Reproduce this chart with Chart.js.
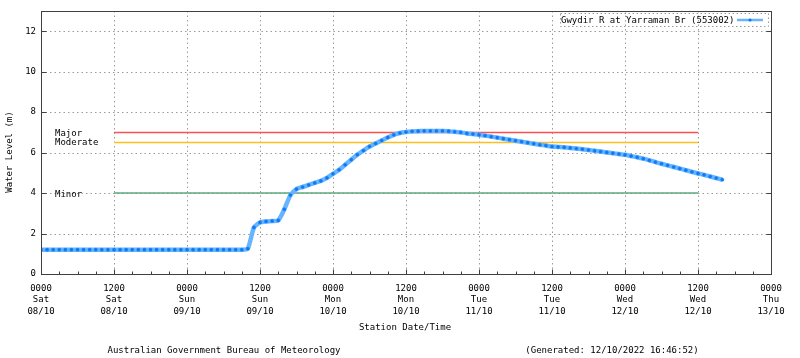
<!DOCTYPE html>
<html><head><meta charset="utf-8">
<script src="https://cdn.jsdelivr.net/npm/chart.js@4"></script>
<style>html,body{margin:0;padding:0;background:#fff}#wrap{width:800px;height:358px;position:relative}</style>
</head><body><div id="wrap"><canvas id="c" width="800" height="358"></canvas></div>
<script>
const seriesName = 'Gwydir R at Yarraman Br (553002)';
// hourly water level (m), hour 0 = 0000 Sat 08/10
const levels = [
 1.2,1.2,1.2,1.2,1.2,1.2,1.2,1.2,1.2,1.2,1.2,1.2,1.2,1.2,1.2,1.2,1.2,1.2,1.2,1.2,
 1.2,1.2,1.2,1.2,1.2,1.2,1.2,1.2,1.2,1.2,1.2,1.2,1.2,1.2,
 1.25,2.3,2.55,2.6,2.62,2.65,3.2,3.9,4.2,4.3,4.4,4.5,4.6,4.75,4.95,5.15,
 5.4,5.65,5.9,6.1,6.3,6.45,6.6,6.75,6.88,6.97,7.02,7.05,7.06,7.07,7.07,7.07,7.07,7.06,7.03,7.0,
 6.95,6.92,6.88,6.84,6.79,6.74,6.69,6.64,6.59,6.54,6.49,6.44,6.39,6.35,6.3,6.28,6.26,6.23,6.2,6.17,
 6.13,6.09,6.05,6.01,5.97,5.93,5.89,5.83,5.77,5.7,5.62,5.53,5.45,5.37,5.29,5.21,5.13,5.05,4.97,4.9,
 4.82,4.74,4.66
];
const thresholdNames = ['Major','Moderate','Minor'];
const thresholdValues = [7.0, 6.5, 4.0];
const thresholdColors = ['#ff4f4f','#ffbf1f','#5daa7c'];
const thresholdFrom = 12, thresholdTo = 108;
const tickTimes = ['0000','1200'];
const tickDays = ['Sat','Sun','Mon','Tue','Wed','Thu'];
const tickDates = ['08/10','09/10','10/10','11/10','12/10','13/10'];
const xMin = 0, xMax = 120, yMin = 0, yMax = 13;
const yTitle = 'Water Level (m)';
const xTitle = 'Station Date/Time';
const footerLeft = 'Australian Government Bureau of Meteorology';
const footerRight = '(Generated: 12/10/2022 16:46:52)';

const FONT_FAMILY = '"DejaVu Sans Mono", monospace';
const FONT = '9px ' + FONT_FAMILY;

const datasets = thresholdValues.map((v, i) => ({
  label: thresholdNames[i],
  data: [{x: thresholdFrom, y: v}, {x: thresholdTo, y: v}],
  borderColor: thresholdColors[i], borderWidth: 1.5, pointRadius: 0, order: 2
}));
datasets.push({
  label: seriesName,
  data: levels.map((v, i) => ({x: i, y: v})),
  borderColor: '#6ab4ff', borderWidth: 4.5,
  pointRadius: 1.6, pointBackgroundColor: '#0a7cf5', pointBorderColor: '#0a7cf5', pointBorderWidth: 0.5,
  tension: 0.2, order: 1
});

function ln(ctx, x1, y1, x2, y2){ ctx.beginPath(); ctx.moveTo(x1,y1); ctx.lineTo(x2,y2); ctx.stroke(); }

const deco = {
  id: 'deco',
  beforeDatasetsDraw(chart){
    const {ctx, chartArea: a, scales: {x, y}} = chart;
    ctx.save();
    ctx.strokeStyle = '#9a9a9a'; ctx.lineWidth = 1; ctx.setLineDash([1.5, 3]);
    x.ticks.forEach(t => {
      if (t.value % 12 === 0 && t.value > xMin && t.value < xMax) {
        const px = Math.round(x.getPixelForValue(t.value)) + 0.5; ln(ctx, px, a.top, px, a.bottom);
      }
    });
    y.ticks.forEach(t => {
      if (t.value > yMin) { const py = Math.round(y.getPixelForValue(t.value)) + 0.5; ln(ctx, a.left, py, a.right, py); }
    });
    ctx.restore();
  },
  afterDatasetsDraw(chart){
    const {ctx, chartArea: a, scales: {x, y}} = chart;
    ctx.save();
    ctx.setLineDash([]);
    ctx.strokeStyle = '#404040'; ctx.lineWidth = 1;
    const L = Math.round(a.left) + 0.5, R = Math.round(a.right) + 0.5, T = Math.round(a.top) + 0.5, B = Math.round(a.bottom) + 0.5;
    ctx.strokeRect(L, T, R - L, B - T);
    x.ticks.forEach(t => {
      const px = Math.round(x.getPixelForValue(t.value)) + 0.5;
      const len = t.value % 12 === 0 ? 5 : 3;
      ln(ctx, px, B, px, B - len);
    });
    y.ticks.forEach(t => {
      const py = Math.round(y.getPixelForValue(t.value)) + 0.5;
      ln(ctx, L, py, L + 5, py); ln(ctx, R, py, R - 5, py);
    });
    // threshold labels
    ctx.fillStyle = '#000'; ctx.font = FONT; ctx.textBaseline = 'middle'; ctx.textAlign = 'left';
    const offs = [1, 0.5, 1.5];
    thresholdValues.forEach((v, i) => {
      ctx.fillText(thresholdNames[i], a.left + 14, y.getPixelForValue(v) + offs[i]);
    });
    // legend
    ctx.strokeStyle = '#9a9a9a'; ctx.setLineDash([1.5, 2.5]);
    ctx.strokeRect(560.5, 13.5, 208, 13);
    ctx.setLineDash([]);
    ctx.fillText(seriesName, 561, 20.5);
    ctx.strokeStyle = '#6ab4ff'; ctx.lineWidth = 2.5; ln(ctx, 737, 20, 763, 20);
    ctx.fillStyle = '#0a7cf5'; ctx.beginPath(); ctx.arc(750, 20, 1.6, 0, Math.PI * 2); ctx.fill();
    ctx.restore();
  },
  afterDraw(chart){
    const {ctx} = chart;
    ctx.save();
    ctx.fillStyle = '#000'; ctx.font = FONT; ctx.textBaseline = 'middle'; ctx.textAlign = 'center';
    ctx.fillText(xTitle, 405, 327.5);
    ctx.fillText(footerLeft, 224, 350.5);
    ctx.fillText(footerRight, 612, 350.5);
    ctx.translate(10, 152); ctx.rotate(-Math.PI / 2);
    ctx.fillText(yTitle, 0, 0);
    ctx.restore();
  }
};

new Chart(document.getElementById('c'), {
  type: 'line',
  data: { datasets },
  options: {
    responsive: false, animation: false, devicePixelRatio: 1,
    layout: { padding: { left: 0, right: 29, top: 11, bottom: 0 } },
    plugins: { legend: { display: false }, tooltip: { enabled: false } },
    scales: {
      x: {
        type: 'linear', min: xMin, max: xMax,
        afterFit(s){ s.height = 84; },
        grid: { display: false, drawTicks: false }, border: { display: false },
        ticks: {
          stepSize: 3, autoSkip: false, maxRotation: 0, padding: 8.5, color: '#000',
          font: { family: FONT_FAMILY, size: 9, lineHeight: 1.28 },
          callback(v){
            if (v % 12 !== 0) return '';
            const d = Math.floor(v / 24);
            return [tickTimes[(v % 24) / 12], tickDays[d], tickDates[d]];
          }
        }
      },
      y: {
        min: yMin, max: yMax,
        afterFit(s){ s.width = 41; },
        grid: { display: false, drawTicks: false }, border: { display: false },
        ticks: { stepSize: 2, includeBounds: false, padding: 5, color: '#000', font: { family: FONT_FAMILY, size: 9 } }
      }
    }
  },
  plugins: [deco]
});
</script></body></html>
